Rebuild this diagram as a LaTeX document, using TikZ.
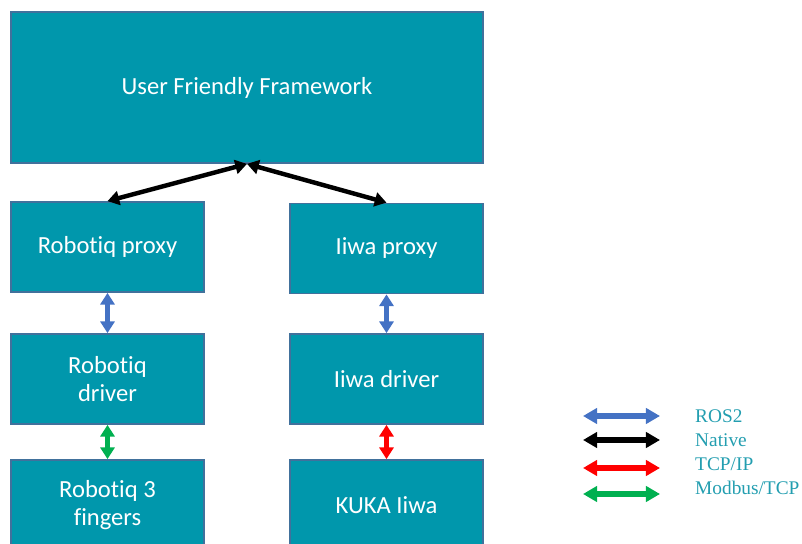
\documentclass[tikz,border=0pt]{standalone}
\usepackage{fontspec}
\setmainfont[Ligatures=NoCommon]{Carlito}
\newfontfamily\legendfont{Liberation Serif}
\usetikzlibrary{arrows.meta}
\definecolor{boxteal}{RGB}{0,151,172}
\definecolor{boxedge}{RGB}{65,113,156}
\definecolor{rosblue}{RGB}{68,114,196}
\definecolor{modgreen}{RGB}{0,176,80}
\definecolor{legendtext}{RGB}{35,158,176}
\tikzset{
  block/.style={draw=boxedge, line width=1.5pt, fill=boxteal, text=white,
    minimum width=5.79cm, minimum height=2.7cm, align=center,
    font=\fontsize{21}{24}\selectfont},
  link/.style={draw=#1, line width=3.8pt,
    {Triangle[width=12pt,length=10pt]}-{Triangle[width=12pt,length=10pt]}},
  keylink/.style={draw=#1, line width=4.6pt,
    {Triangle[width=13pt,length=12pt]}-{Triangle[width=13pt,length=12pt]}},
}
\begin{document}
\begin{tikzpicture}[x=0.03cm,y=-0.03cm]
\clip (0,0) rectangle (802,544);

% boxes
\node[block, minimum width=14.16cm, minimum height=4.53cm] (frame) at (247,87.5) {User Friendly Framework};
\node[block] (rproxy) at (107.5,247) {Robotiq proxy};
\node[block] (iproxy) at (386.5,248.5) {Iiwa proxy};
\node[block] (rdriver) at (107.5,379) {Robotiq\\driver};
\node[block] (idriver) at (386.5,379) {Iiwa driver};
\node[block] (fingers) at (107.5,505) {Robotiq 3\\fingers};
\node[block] (kuka) at (386.5,505) {KUKA Iiwa};

% links
\draw[link=black] (frame.south) -- (rproxy.north);
\draw[link=black] (frame.south) -- (iproxy.north);
\draw[link=rosblue] (rproxy) -- (rdriver);
\draw[link=rosblue] (iproxy) -- (idriver);
\draw[link=modgreen] (rdriver) -- (fingers);
\draw[link=red] (idriver) -- (kuka);

% legend
\foreach \ya/\yt/\c/\t [count=\i] in {416/416/rosblue/ROS2, 440/440/black/Native,
    468/464/red/TCP\slash IP, 494/488/modgreen/Modbus\slash TCP} {
  \coordinate (k\i a) at (583,\ya);
  \coordinate (k\i b) at (660,\ya);
  \draw[keylink=\c] (k\i a) -- (k\i b);
  \node[anchor=west, text=legendtext, font=\legendfont\fontsize{16.5}{18}\selectfont,
    inner sep=0pt] (kt\i) at (695,\yt) {\t};
}
\end{tikzpicture}
\end{document}
